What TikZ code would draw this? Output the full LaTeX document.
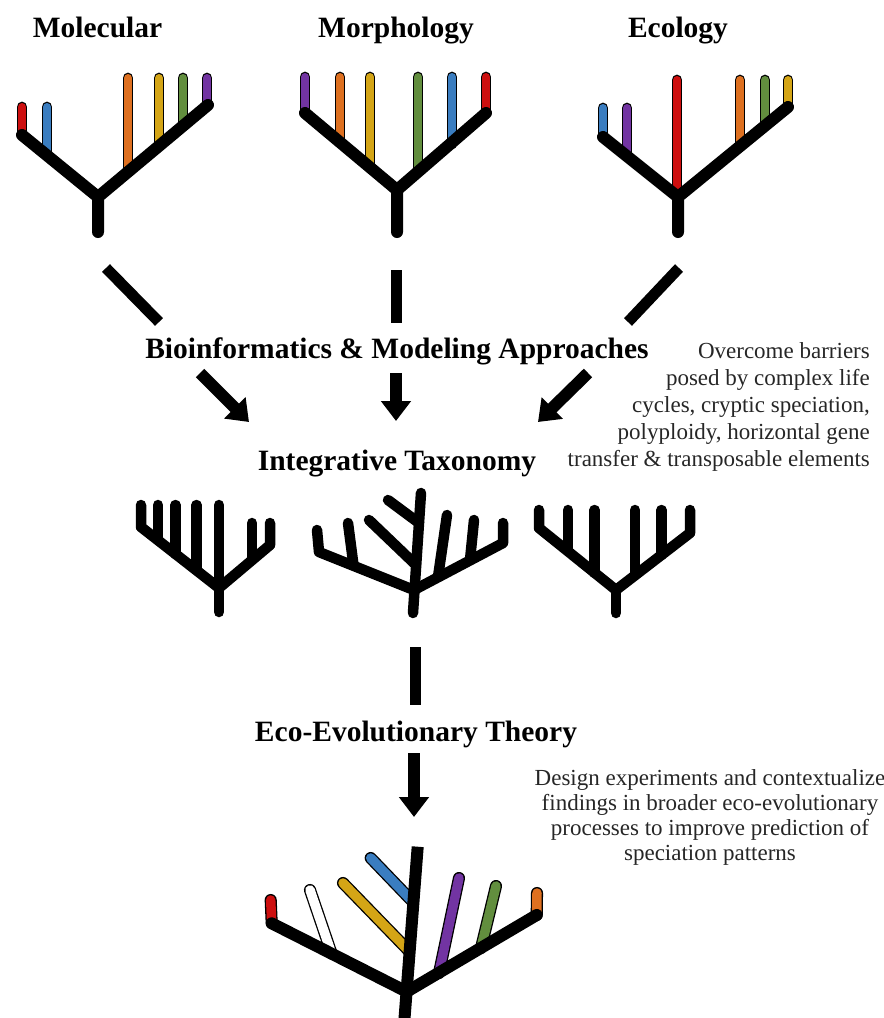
\documentclass[tikz,border=0pt]{standalone}
\usepackage{fontspec}
\setmainfont{Liberation Serif}
\usetikzlibrary{arrows.meta}
\definecolor{tred}{RGB}{205,15,15}
\definecolor{tblue}{RGB}{58,125,192}
\definecolor{torange}{RGB}{222,112,32}
\definecolor{tgold}{RGB}{212,165,22}
\definecolor{tgreen}{RGB}{98,142,62}
\definecolor{tpurple}{RGB}{114,52,162}
\begin{document}
\begin{tikzpicture}[x=1pt,y=-1pt,
  branch/.style={line width=12pt, line cap=round, line join=round},
  mbranch/.style={line width=10.5pt, line cap=round, line join=round},
  cstem/.style={double distance=8pt, line width=1.4pt, line cap=round},
  bstem/.style={double distance=9.5pt, line width=1.3pt, line cap=round},
  seg/.style={line width=11pt},
  bigarrow/.style={line width=12pt, -{Triangle[width=29pt,length=20pt]}},
  title/.style={font=\fontsize{29.5}{33}\selectfont\bfseries, inner sep=0pt, anchor=base},
  note/.style={font=\fontsize{23}{27}\selectfont, inner sep=0pt, text=black!85}]
\useasboundingbox (0,0) rectangle (884,1018);

% ---------- titles ----------
\node[title] (mol) at (97.5,37) {Molecular};
\node[title] (mor) at (396,37) {Morphology};
\node[title] (ecl) at (678,37) {Ecology};

% ---------- tree 1 (Molecular) ----------
\coordinate (t1r) at (98,232); \coordinate (t1j) at (98,197);
\coordinate (t1l) at (22,135); \coordinate (t1e) at (208,105);
\draw[cstem,double=tred] (22,107) -- (22,135);
\draw[cstem,double=tblue] (47,107) -- (47,155);
\draw[cstem,double=torange] (128,78) -- (128,172);
\draw[cstem,double=tgold] (159,78) -- (159,146);
\draw[cstem,double=tgreen] (183,78) -- (183,126);
\draw[cstem,double=tpurple] (207,78) -- (207,106);
\draw[branch] (t1l) -- (t1j) -- (t1e) (t1j) -- (t1r);

% ---------- tree 2 (Morphology) ----------
\coordinate (t2r) at (397,232); \coordinate (t2j) at (397,190);
\coordinate (t2l) at (305,113); \coordinate (t2e) at (486,113);
\draw[cstem,double=tpurple] (305,77) -- (305,113);
\draw[cstem,double=torange] (340,77) -- (340,142);
\draw[cstem,double=tgold] (370,77) -- (370,167);
\draw[cstem,double=tgreen] (418,77) -- (418,172);
\draw[cstem,double=tblue] (452,77) -- (452,144);
\draw[cstem,double=tred] (486,77) -- (486,113);
\draw[branch] (t2l) -- (t2j) -- (t2e) (t2j) -- (t2r);

% ---------- tree 3 (Ecology) ----------
\coordinate (t3r) at (678,232); \coordinate (t3j) at (678,197);
\coordinate (t3l) at (603,137); \coordinate (t3e) at (788,107);
\draw[cstem,double=tblue] (603,108) -- (603,137);
\draw[cstem,double=tpurple] (627,108) -- (627,156);
\draw[cstem,double=tred] (677,80) -- (677,195);
\draw[cstem,double=torange] (740,80) -- (740,146);
\draw[cstem,double=tgreen] (765,80) -- (765,126);
\draw[cstem,double=tgold] (788,80) -- (788,107);
\draw[branch] (t3l) -- (t3j) -- (t3e) (t3j) -- (t3r);

% ---------- upper segments ----------
\coordinate (u1a) at (106,268); \coordinate (u1b) at (159,322);
\coordinate (u2a) at (396,270); \coordinate (u2b) at (396,323);
\coordinate (u3a) at (679,268); \coordinate (u3b) at (628,322);
\draw[seg] (u1a) -- (u1b);
\draw[seg] (u2a) -- (u2b);
\draw[seg] (u3a) -- (u3b);

\node[title] (bio) at (397,358) {Bioinformatics \& Modeling Approaches};

% ---------- lower arrows ----------
\coordinate (l1a) at (200,373); \coordinate (l1b) at (249,422);
\coordinate (l2a) at (396,373); \coordinate (l2b) at (396,421);
\coordinate (l3a) at (588,373); \coordinate (l3b) at (538,422);
\draw[bigarrow] (l1a) -- (l1b);
\draw[bigarrow] (l2a) -- (l2b);
\draw[bigarrow] (l3a) -- (l3b);

\node[note, align=right, anchor=base east] (n1) at (870,466)
  {Overcome barriers\\posed by complex life\\cycles, cryptic speciation,\\polyploidy, horizontal gene\\transfer \& transposable elements};

\node[title] (integ) at (397,470) {Integrative Taxonomy};

% ---------- middle trees ----------
% left
\draw[mbranch] (141,505) -- (141,527) -- (219,588) -- (270,545) -- (270,523);
\draw[mbranch] (219,505) -- (219,612);
\draw[mbranch] (158,505) -- (158,540);
\draw[mbranch] (175.5,505) -- (175.5,554);
\draw[mbranch] (196.5,505) -- (196.5,570);
\draw[mbranch] (252,523) -- (252,560);
% centre
\draw[mbranch] (413,613) -- (421,493);
\draw[mbranch] (317,530) -- (319,552) -- (414,590) -- (503,543) -- (503,523);
\draw[mbranch] (348,523) -- (353.5,565);
\draw[mbranch] (369,520) -- (416,565);
\draw[mbranch] (388,500) -- (419,523);
\draw[mbranch] (447,515) -- (438,577);
\draw[mbranch] (474,520) -- (470,560);
% right
\draw[mbranch] (539,510) -- (539,528) -- (616,590) -- (690,533) -- (690,510);
\draw[mbranch] (616,590) -- (616,613);
\draw[mbranch] (568,510) -- (568,551);
\draw[mbranch] (594.6,510) -- (594.6,573);
\draw[mbranch] (635,510) -- (635,575);
\draw[mbranch] (661.5,510) -- (661.5,555);

% ---------- to eco-evolutionary theory ----------
\coordinate (m1a) at (415,647); \coordinate (m1b) at (415,705);
\draw[seg] (m1a) -- (m1b);
\node[title] (ecoevo) at (416,741) {Eco-Evolutionary Theory};
\coordinate (m2a) at (414,753); \coordinate (m2b) at (414,817);
\draw[bigarrow] (m2a) -- (m2b);

\node[note, align=center, anchor=base, font=\fontsize{23}{25}\selectfont] (n2) at (710,860)
  {Design experiments and contextualize\\findings in broader eco-evolutionary\\processes to improve prediction of\\speciation patterns};

% ---------- bottom tree ----------
\draw[bstem,double=tred] (270.7,900) -- (271.7,923);
\draw[bstem,double=white] (310,890) -- (331.6,953.6);
\draw[bstem,double=tgold] (343,883) -- (408,950);
\draw[bstem,double=tblue] (370.7,858) -- (413,902);
\draw[bstem,double=tpurple] (459,878) -- (439,973);
\draw[bstem,double=tgreen] (496,886) -- (481,948);
\draw[bstem,double=torange] (537,893) -- (536.7,915);
\coordinate (bj) at (406.7,991.7);
\draw[branch] (271.7,923.3) -- (bj) -- (536.7,915);
\draw[branch,line cap=butt] (417.7,846.7) -- (404,1025);
\end{tikzpicture}
\end{document}
